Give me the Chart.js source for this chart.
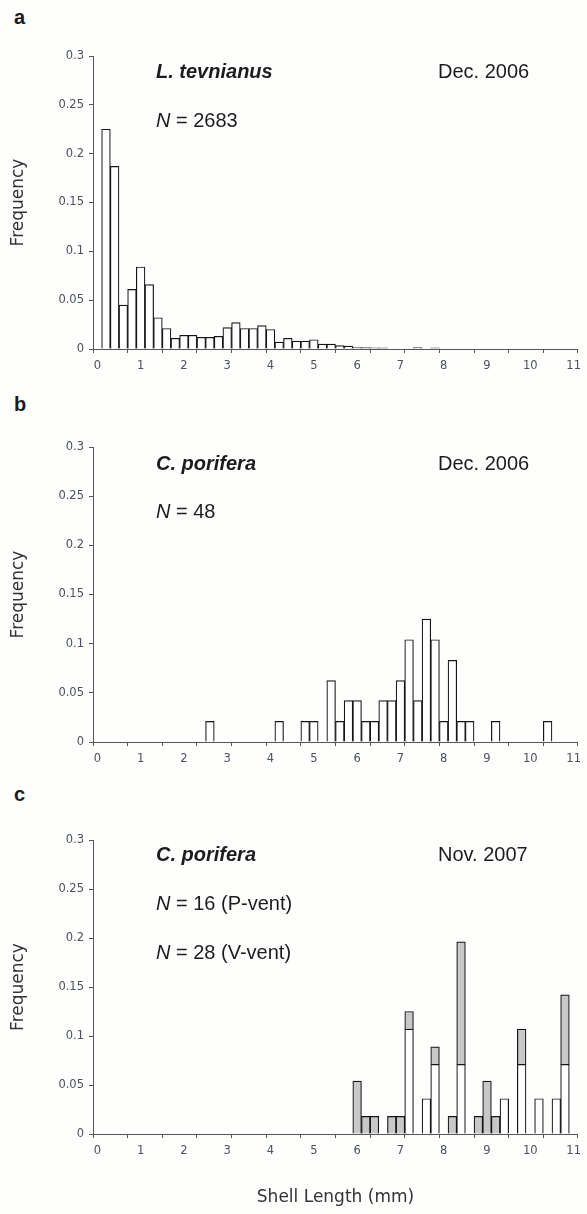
<!DOCTYPE html>
<html><head><meta charset="utf-8">
<script src="https://cdn.jsdelivr.net/npm/chart.js@4.4.1/dist/chart.umd.min.js"></script>
<style>
html,body{margin:0;padding:0;background:#fff;}
#wrap{position:relative;width:587px;height:1214px;overflow:hidden;background:#fefefd;}
canvas{position:absolute;left:0;}
.t{position:absolute;font-family:"Liberation Sans",Arial,sans-serif;font-size:20px;line-height:20px;color:#1c1c1c;white-space:nowrap;z-index:2;}
.b{font-weight:bold;}
.i{font-style:italic;}
</style></head><body>
<div id="wrap">
<canvas id="ca" width="587" height="355" style="top:30px"></canvas>
<canvas id="cb" width="587" height="355" style="top:420px"></canvas>
<canvas id="cc" width="587" height="399" style="top:815px"></canvas>

<div class="t b" style="left:14px;top:7px">a</div>
<div class="t b i" style="left:156px;top:61px">L. tevnianus</div>
<div class="t" style="left:438px;top:61px">Dec. 2006</div>
<div class="t" style="left:156px;top:110px"><span class="i">N</span> = 2683</div>

<div class="t b" style="left:14px;top:394px">b</div>
<div class="t b i" style="left:156px;top:453px">C. porifera</div>
<div class="t" style="left:438px;top:453px">Dec. 2006</div>
<div class="t" style="left:156px;top:501px"><span class="i">N</span> = 48</div>

<div class="t b" style="left:14px;top:784px">c</div>
<div class="t b i" style="left:156px;top:844px">C. porifera</div>
<div class="t" style="left:438px;top:844px">Nov. 2007</div>
<div class="t" style="left:156px;top:893px"><span class="i">N</span> = 16 (P-vent)</div>
<div class="t" style="left:156px;top:942px"><span class="i">N</span> = 28 (V-vent)</div>
</div>
<script>
// Bin categories (0.2 mm bins)
const categories = ['0.0','0.2','0.4','0.6','0.8','1.0','1.2','1.4','1.6','1.8',
  '2.0','2.2','2.4','2.6','2.8','3.0','3.2','3.4','3.6','3.8',
  '4.0','4.2','4.4','4.6','4.8','5.0','5.2','5.4','5.6','5.8',
  '6.0','6.2','6.4','6.6','6.8','7.0','7.2','7.4','7.6','7.8',
  '8.0','8.2','8.4','8.6','8.8','9.0','9.2','9.4','9.6','9.8',
  '10.0','10.2','10.4','10.6','10.8','11.0'];
const xTickLabels = ['0','1','2','3','4','5','6','7','8','9','10','11'];
const yTickLabels = ['0','0.05','0.1','0.15','0.2','0.25','0.3'];

// a: L. tevnianus, Dec. 2006
const freqA = [null,0.225,0.187,0.045,0.061,0.084,0.066,0.032,0.021,0.011,
  0.014,0.014,0.012,0.012,0.013,0.022,0.027,0.021,0.021,0.024,
  0.020,0.007,0.011,0.008,0.008,0.0095,0.005,0.005,0.0035,0.003,
  0.0015,0.0015,0.0012,0.0012,null,null,null,0.0015,null,0.0012,
  null,null,null,null,null,null,null,null,null,null,
  null,null,null,null,null,null];

// b: C. porifera, Dec. 2006
const freqB = [null,null,null,null,null,null,null,null,null,null,
  null,null,null,0.021,null,null,null,null,null,null,
  null,0.021,null,null,0.021,0.021,null,0.0625,0.021,0.042,
  0.042,0.021,0.021,0.042,0.042,0.0625,0.104,0.042,0.125,0.104,
  0.021,0.083,0.021,0.021,null,null,0.021,null,null,null,
  null,null,0.021,null,null,null];

// c: C. porifera, Nov. 2007 (white lower part, grey upper part)
const freqCWhite = [null,null,null,null,null,null,null,null,null,null,
  null,null,null,null,null,null,null,null,null,null,
  null,null,null,null,null,null,null,null,null,null,
  null,null,null,null,null,null,0.107,null,0.036,0.071,
  null,null,0.071,null,null,null,null,0.036,null,0.071,
  null,0.036,null,0.036,0.071,null];
const freqCGray = [null,null,null,null,null,null,null,null,null,null,
  null,null,null,null,null,null,null,null,null,null,
  null,null,null,null,null,null,null,null,null,null,
  0.054,0.018,0.018,null,0.018,0.018,0.018,null,null,0.018,
  null,0.018,0.125,null,0.018,0.054,0.018,null,null,0.036,
  null,null,null,null,0.071,null];

const AXIS = '#555555';
const TICK = '#4a5060';
const EDGE = '#151515';

function barSet(data, fill) {
  return { data: data, backgroundColor: fill, borderColor: EDGE, borderWidth: 1.2,
    categoryPercentage: 1, barPercentage: 1 };
}

function makeChart(id, datasets, padTop, xHeight, showXTitle) {
  return new Chart(document.getElementById(id), {
    type: 'bar',
    data: { labels: categories, datasets: datasets },
    options: {
      responsive: false, animation: false, events: [],
      layout: { padding: { top: padTop, right: 6, left: 0, bottom: 0 } },
      plugins: { legend: { display: false }, tooltip: { enabled: false } },
      scales: {
        x: {
          stacked: true,
          grid: { display: true, drawOnChartArea: false, drawTicks: true, tickLength: 4, offset: true,
            color: (ctx) => (ctx.type !== 'tick' || ctx.index % 4 === 0) ? AXIS : 'rgba(0,0,0,0)' },
          border: { display: true, color: AXIS, width: 1 },
          ticks: { autoSkip: false, maxRotation: 0, minRotation: 0, padding: 6, color: TICK,
            font: { family: 'DejaVu Sans', size: 11.5 },
            callback: (v, i) => (i % 5 === 0 ? xTickLabels[i / 5] : '') },
          title: { display: showXTitle, text: 'Shell Length (mm)', color: '#333',
            font: { family: 'DejaVu Sans', size: 17 }, padding: { top: 0, bottom: 6 } },
          afterFit: (s) => { s.height = xHeight; }
        },
        y: {
          stacked: true, min: 0, max: 0.3,
          grid: { display: true, drawOnChartArea: false, drawTicks: true, tickLength: 4, color: AXIS },
          border: { display: true, color: AXIS, width: 1 },
          ticks: { stepSize: 0.05, padding: 5, color: TICK, font: { family: 'DejaVu Sans', size: 11.5 },
            callback: (v, i) => yTickLabels[i] },
          title: { display: true, text: 'Frequency', color: '#333',
            font: { family: 'DejaVu Sans', size: 17 }, padding: { top: 8, bottom: 0 } },
          afterFit: (s) => { s.width = 93; }
        }
      }
    }
  });
}

makeChart('ca', [barSet(freqA, '#ffffff')], 26, 36, false);
makeChart('cb', [barSet(freqB, '#ffffff')], 27, 33, false);
makeChart('cc', [barSet(freqCWhite, '#ffffff'), barSet(freqCGray, '#c8c8c8')], 25, 80, true);
</script>
</body></html>
